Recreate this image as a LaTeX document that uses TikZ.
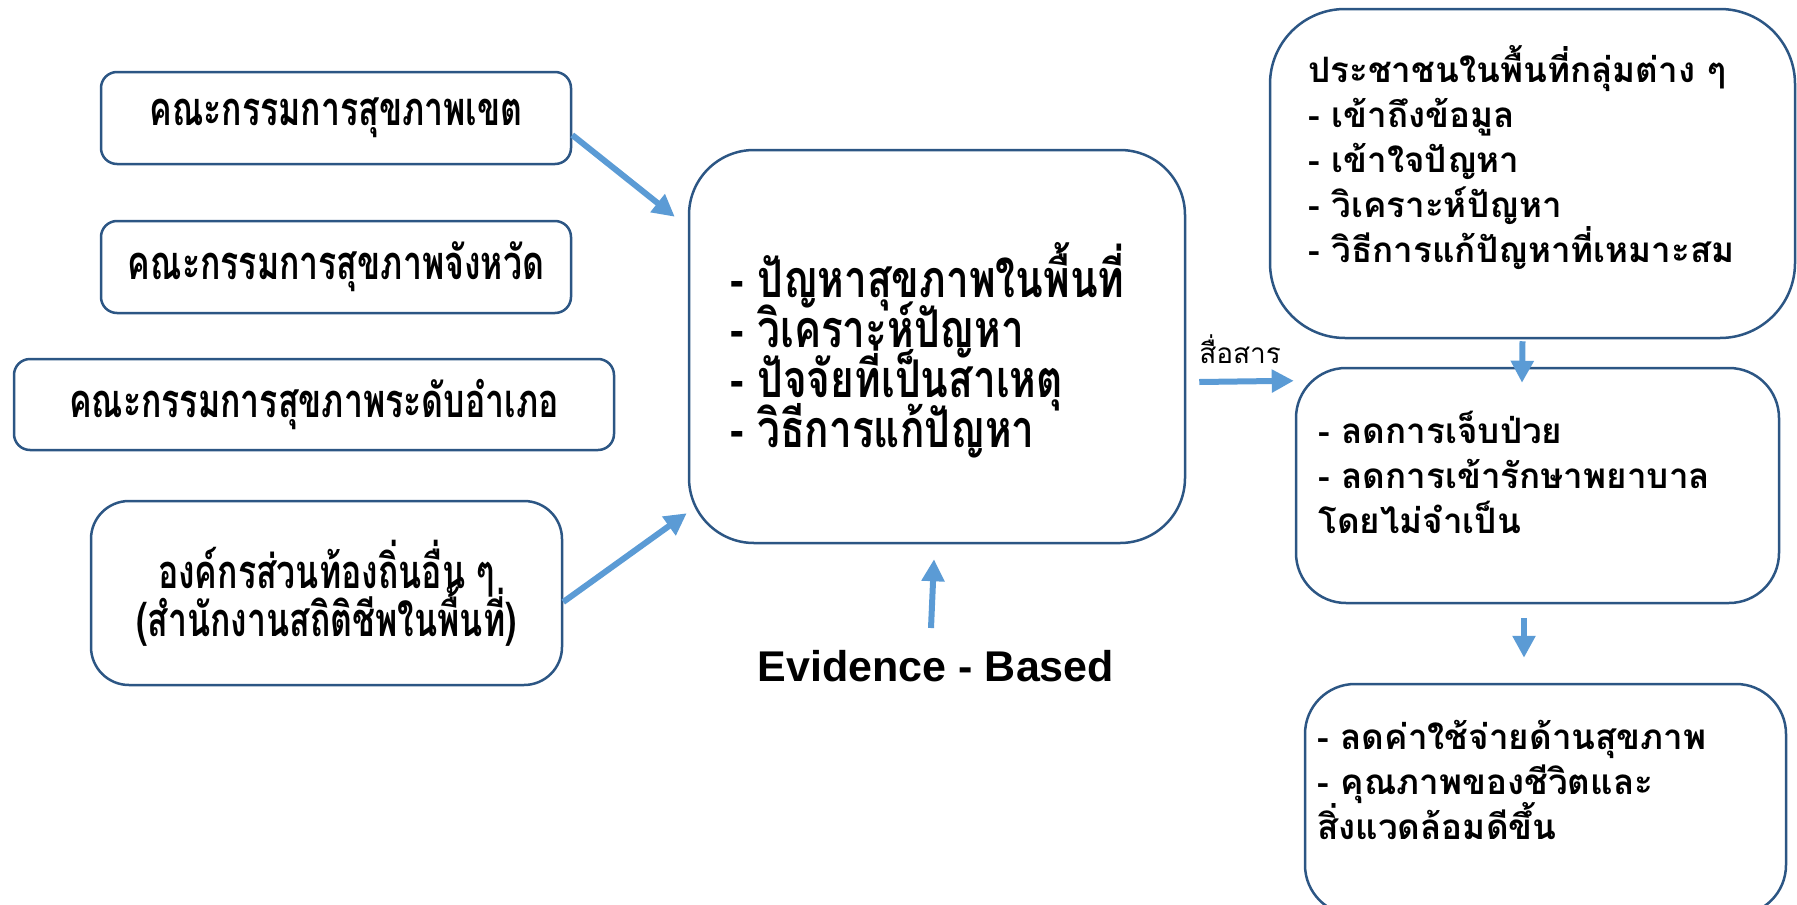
\documentclass[tikz,border=0pt]{standalone}
\usepackage{fontspec}
\setmainfont{Liberation Sans}
\newfontfamily\thaiN[Script=Thai,FakeStretch=0.72]{Loma}
\newfontfamily\thaiC[Script=Thai,FakeStretch=0.78]{Loma}
\newfontfamily\thaiW[Script=Thai]{Loma}
\usetikzlibrary{arrows.meta,calc}
\definecolor{boxline}{HTML}{2C5684}
\definecolor{arrowblue}{HTML}{5B9BD5}
\newcommand{\tightlines}{\lineskiplimit=-100pt\lineskip=0pt}
\tikzset{
  box/.style={draw=boxline, line width=2.5pt, fill=white, inner sep=0pt, rectangle},
  flow/.style={draw=arrowblue, line width=6pt, -{Triangle[length=22pt,width=22pt]}},
  lefttxt/.style={font=\thaiN\bfseries\fontsize{47}{48}\selectfont\tightlines, align=center},
  midtxt/.style={font=\thaiC\bfseries\fontsize{52}{50}\selectfont\tightlines, align=left, anchor=west, inner sep=0pt},
  righttxt/.style={font=\thaiW\bfseries\fontsize{35}{45}\selectfont\tightlines, align=left, anchor=west, inner sep=0pt},
}
\begin{document}
\begin{tikzpicture}[x=1pt,y=-1pt]
\useasboundingbox (0,0) rectangle (1797,905);
\clip (0,0) rectangle (1797,905);
% left boxes
\node[box, rounded corners=16pt, minimum width=470pt, minimum height=92pt, lefttxt] (b1) at (336,118) {คณะกรรมการสุขภาพเขต};
\node[box, rounded corners=16pt, minimum width=470pt, minimum height=92pt, lefttxt] (b2) at (336,267) {คณะกรรมการสุขภาพจังหวัด};
\node[box, rounded corners=16pt, minimum width=600pt, minimum height=91pt, lefttxt] (b3) at (314,404.5) {คณะกรรมการสุขภาพระดับอำเภอ};
\node[box, rounded corners=38pt, minimum width=471pt, minimum height=184pt, lefttxt] (b4) at (326.5,593) {องค์กรส่วนท้องถิ่นอื่น ๆ\\(สำนักงานสถิติชีพในพื้นที่)};
% center box
\node[box, rounded corners=65pt, minimum width=496pt, minimum height=393pt] (c) at (937,346.5) {};
\node[midtxt] (ct) at (730,350) {- ปัญหาสุขภาพในพื้นที่\\- วิเคราะห์ปัญหา\\- ปัจจัยที่เป็นสาเหตุ\\- วิธีการแก้ปัญหา};
% evidence
\node[font=\bfseries\fontsize{43}{50}\selectfont, inner sep=0pt] (ev) at (936,666) {Evidence - Based};
% right boxes
\node[box, rounded corners=75pt, minimum width=525pt, minimum height=329pt] (r1) at (1532.5,173.5) {};
\node[righttxt] (r1t) at (1308,158) {ประชาชนในพื้นที่กลุ่มต่าง ๆ\\- เข้าถึงข้อมูล\\- เข้าใจปัญหา\\- วิเคราะห์ปัญหา\\- วิธีการแก้ปัญหาที่เหมาะสม};
\node[box, rounded corners=50pt, minimum width=483pt, minimum height=235pt] (r2) at (1537.5,485.5) {};
\node[righttxt] (r2t) at (1318,472) {- ลดการเจ็บป่วย\\- ลดการเข้ารักษาพยาบาล\\โดยไม่จำเป็น};
\node[box, rounded corners=50pt, minimum width=481pt, minimum height=231pt] (r3) at (1545.5,799.5) {};
\node[righttxt] (r3t) at (1317,780) {- ลดค่าใช้จ่ายด้านสุขภาพ\\- คุณภาพของชีวิตและ\\สิ่งแวดล้อมดีขึ้น};
% arrows
\coordinate (a1s) at ($(b1.east)+(0,17)$);
\coordinate (a1e) at ($(c.north west)+(-13,68)$);
\draw[flow] (a1s) -- (a1e);
\coordinate (a2s) at ($(b4.east)+(0,9)$);
\coordinate (a2e) at ($(c.south west)+(-1,-31)$);
\draw[flow] (a2s) -- (a2e);
\coordinate (evtop) at ($(ev.north)+(-5,-22)$);
\coordinate (a3e) at ($(c.south)+(-3,15)$);
\draw[flow] (evtop) -- (a3e);
\coordinate (a4s) at ($(c.east)+(13,35.5)$);
\coordinate (a4e) at ($(r2.north west)+(-1,14)$);
\draw[flow] (a4s) -- node[pos=0, anchor=south west, yshift=15pt, xshift=-3pt, font=\thaiW\fontsize{28}{30}\selectfont, inner sep=0pt] (lbl) {สื่อสาร} (a4e);
\coordinate (d1s) at ($(r1.south)+(-10,2)$);
\coordinate (d1e) at ($(r2.north)+(-15.5,16)$);
\draw[flow] (d1s) -- (d1e);
\coordinate (d2s) at ($(r2.south)+(-13.5,14)$);
\coordinate (d2e) at ($(r3.north)+(-21.5,-25)$);
\draw[flow] (d2s) -- (d2e);
\end{tikzpicture}
\end{document}
